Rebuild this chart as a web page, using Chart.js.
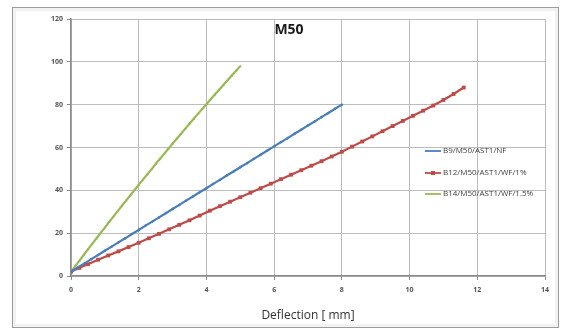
<!DOCTYPE html>
<html>
<head>
<meta charset="utf-8">
<script src="https://cdn.jsdelivr.net/npm/chart.js@4"></script>
<style>
    body { margin: 0; background: #fff; }
    #frame {
        position: absolute; left: 12px; top: 7px; width: 545px; height: 319px;
        border: 1px solid #9c9c9c; box-shadow: inset 0 0 0 3px #f2f2f2;
    }
    #wrap { position: absolute; left: 0; top: 0; width: 563px; height: 332px; }
</style>
</head>
<body>
<div id="frame"></div>
<div id="wrap"><canvas id="loadChart" width="563" height="332"></canvas></div>
<script>
// Load vs deflection, M50 beams

const chartTitle = 'M50';
const xAxisTitle = 'Deflection [ mm]';
const xTicks = [0, 2, 4, 6, 8, 10, 12, 14];
const yTicks = [0, 20, 40, 60, 80, 100, 120];

const seriesNames = ['B9/M50/AST1/NF', 'B12/M50/AST1/WF/1%', 'B14/M50/AST1/WF/1.5%'];
const seriesColors = ['#4a7ebb', '#be4b48', '#98b954'];

// B9 - no fibre
const b9Defl = [0, 0.2, 0.4, 0.6, 0.8, 1.0, 1.2, 1.4, 1.6, 1.8, 2.0, 2.2, 2.4, 2.6, 2.8, 3.0, 3.2, 3.4, 3.6, 3.8,
    4.0, 4.2, 4.4, 4.6, 4.8, 5.0, 5.2, 5.4, 5.6, 5.8, 6.0, 6.2, 6.4, 6.6, 6.8, 7.0, 7.2, 7.4, 7.6, 7.8, 8.0];
const b9Load = [2, 4, 5.9, 7.9, 9.8, 11.8, 13.7, 15.7, 17.6, 19.6, 21.5, 23.5, 25.4, 27.4, 29.3, 31.3, 33.2, 35.2, 37.1, 39.1,
    41.0, 43.0, 44.9, 46.9, 48.8, 50.8, 52.7, 54.7, 56.6, 58.6, 60.5, 62.5, 64.4, 66.4, 68.3, 70.3, 72.2, 74.2, 76.1, 78.1, 80.0];

// B12 - 1% fibre
const b12Defl = [0, 0.25, 0.5, 0.8, 1.1, 1.4, 1.7, 2.0, 2.3, 2.6, 2.9, 3.2, 3.5, 3.8, 4.1, 4.4, 4.7, 5.0, 5.3, 5.6,
    5.9, 6.2, 6.5, 6.8, 7.1, 7.4, 7.7, 8.0, 8.3, 8.6, 8.9, 9.2, 9.5, 9.8, 10.1, 10.4, 10.7, 11.0, 11.3, 11.6];
const b12Load = [2, 3.8, 5.5, 7.6, 9.6, 11.5, 13.5, 15.5, 17.6, 19.7, 21.8, 23.9, 26.0, 28.2, 30.5, 32.6, 34.7, 36.8, 38.9, 41.0,
    43.1, 45.2, 47.3, 49.4, 51.5, 53.6, 55.8, 58.0, 60.4, 62.8, 65.2, 67.6, 70.0, 72.4, 74.8, 77.2, 79.6, 82.2, 85.0, 88.0];

// B14 - 1.5% fibre
const b14Defl = [0, 0.125, 0.25, 0.375, 0.5, 0.625, 0.75, 0.875, 1.0, 1.125, 1.25, 1.375, 1.5, 1.625, 1.75, 1.875, 2.0, 2.125, 2.25, 2.375,
    2.5, 2.625, 2.75, 2.875, 3.0, 3.125, 3.25, 3.375, 3.5, 3.625, 3.75, 3.875, 4.0, 4.125, 4.25, 4.375, 4.5, 4.625, 4.75, 4.875, 5.0];
const b14Load = [2.0, 4.6, 7.2, 9.8, 12.4, 15.0, 17.5, 20.1, 22.6, 25.2, 27.7, 30.2, 32.7, 35.2, 37.6, 40.1, 42.6, 45.0, 47.4, 49.8,
    52.3, 54.6, 57.0, 59.4, 61.8, 64.1, 66.4, 68.8, 71.1, 73.4, 75.7, 78.0, 80.2, 82.5, 84.7, 87.0, 89.2, 91.4, 93.6, 95.8, 98.0];

function toPoints(xs, ys) {
    return xs.map((x, i) => ({ x, y: ys[i] }));
}

const pointStyles = ['rectRot', 'rect', 'triangle'];
const pointSizes = [1.6, 2.7, 1.7];
const seriesData = [toPoints(b9Defl, b9Load), toPoints(b12Defl, b12Load), toPoints(b14Defl, b14Load)];

// title drawn inside the plot area, like the Excel original
const insideTitle = {
    id: 'insideTitle',
    afterDraw(chart) {
        const ctx = chart.ctx;
        ctx.save();
        ctx.font = 'bold 14px "Liberation Sans Narrow", "Open Sans", sans-serif';
        ctx.fillStyle = '#1a1a1a';
        ctx.textAlign = 'center';
        ctx.textBaseline = 'middle';
        ctx.fillText(chartTitle, 289, 30);
        ctx.restore();
    }
};

// legend on the right, inside the plot
const sideLegend = {
    id: 'sideLegend',
    afterDatasetsDraw(chart) {
        const ctx = chart.ctx;
        const rows = [151, 173, 194];
        ctx.save();
        chart.data.datasets.forEach((ds, i) => {
            const y = rows[i];
            ctx.strokeStyle = ds.borderColor;
            ctx.lineWidth = 1.8;
            ctx.beginPath();
            ctx.moveTo(425, y);
            ctx.lineTo(441, y);
            ctx.stroke();
            if (i === 1) {
                ctx.fillStyle = ds.borderColor;
                ctx.fillRect(431, y - 2, 4, 4);
            }
            ctx.font = '8px "Open Sans", sans-serif';
            ctx.fillStyle = '#404040';
            ctx.textBaseline = 'middle';
            ctx.fillText(ds.label, 443, y);
        });
        ctx.restore();
    }
};

const tickFont = { family: '"Open Sans", sans-serif', size: 7, weight: 'bold' };

new Chart(document.getElementById('loadChart'), {
    type: 'scatter',
    data: {
        datasets: seriesNames.map((name, i) => ({
            label: name,
            data: seriesData[i],
            showLine: true,
            borderColor: seriesColors[i],
            backgroundColor: seriesColors[i],
            borderWidth: 2.2,
            pointStyle: pointStyles[i],
            pointRadius: pointSizes[i],
            pointBorderWidth: 0,
            tension: 0
        }))
    },
    options: {
        responsive: false,
        animation: false,
        layout: { padding: { left: 0, right: 18, top: 19, bottom: 0 } },
        plugins: {
            legend: { display: false },
            title: { display: false },
            tooltip: { enabled: false }
        },
        scales: {
            x: {
                type: 'linear',
                min: 0,
                max: 14,
                afterBuildTicks: s => { s.ticks = xTicks.map(v => ({ value: v })); },
                afterFit: s => { s.height = 56; },
                grid: { color: '#bcbcbc', lineWidth: 1, tickLength: 4, tickColor: '#8a8a8a' },
                border: { color: '#8a8a8a', width: 1.5 },
                ticks: { font: tickFont, color: '#555', padding: 6, maxRotation: 0 },
                title: {
                    display: true,
                    text: xAxisTitle,
                    font: { family: '"Open Sans", sans-serif', size: 12 },
                    color: '#333',
                    padding: { top: 0, bottom: 9 }
                }
            },
            y: {
                type: 'linear',
                min: 0,
                max: 120,
                afterBuildTicks: s => { s.ticks = yTicks.map(v => ({ value: v })); },
                afterFit: s => { s.width = 71; },
                grid: { color: '#bcbcbc', lineWidth: 1, tickLength: 4, tickColor: '#8a8a8a' },
                border: { color: '#8a8a8a', width: 1.5 },
                ticks: { font: tickFont, color: '#555', padding: 4 }
            }
        }
    },
    plugins: [insideTitle, sideLegend]
});
</script>
</body>
</html>
